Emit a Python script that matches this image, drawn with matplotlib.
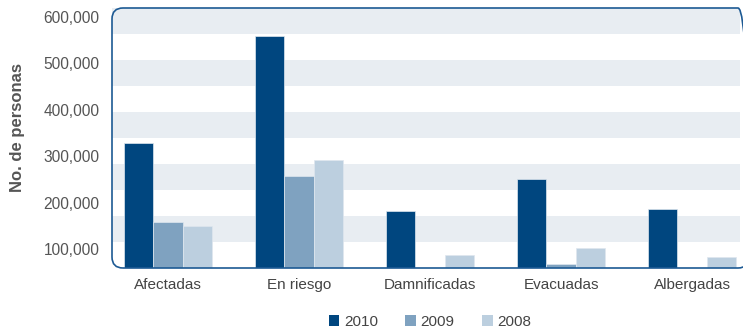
import matplotlib.pyplot as plt
import matplotlib.patches as patches
from matplotlib.ticker import FuncFormatter
import numpy as np

plt.rcParams['font.family'] = ['Liberation Sans', 'DejaVu Sans']

# --- DATA ---
categories = ["Afectadas", "En riesgo", "Damnificadas", "Evacuadas", "Albergadas"]
years = ["2010", "2009", "2008"]
values_2010 = [328000, 559000, 182000, 251000, 186000]
values_2009 = [159000, 257000, 0, 67000, 0]
values_2008 = [150000, 292000, 87000, 101000, 82000]
y_ticks = [100000, 200000, 300000, 400000, 500000, 600000]

colors = ['#00467f', '#7fa2c0', '#bccfdf']
band_color = '#e8edf2'
frame_color = '#1d5a94'
text_color = '#555555'

W, H = 743, 333
fig = plt.figure(figsize=(W / 100, H / 100), dpi=100)

# plot area in pixels (left, top, right, bottom)
px_l, px_t, px_r, px_b = 112, 8, 740, 268
ax = fig.add_axes([px_l / W, (H - px_b) / H, (px_r - px_l) / W, (px_b - px_t) / H])

ymin, ymax = 59000, 619000
ax.set_ylim(ymin, ymax)
ax.set_xlim(-0.427, 4.366)

# alternating background stripes
step = (ymax - ymin) / 10
for i in range(1, 10, 2):
    ax.axhspan(ymin + i * step, ymin + (i + 1) * step, color=band_color, lw=0, zorder=0)

x = np.arange(len(categories))
w = 0.224
for k, (vals, col) in enumerate(zip([values_2010, values_2009, values_2008], colors)):
    ax.bar(x + (k - 1) * w, vals, width=w, color=col, edgecolor='#dfe7ef',
           linewidth=0.5, zorder=2, label=years[k])

for s in ax.spines.values():
    s.set_visible(False)
ax.set_xticks(x)
ax.set_xticklabels(categories, fontsize=11, color='#444444')
ax.set_yticks(y_ticks)
ax.yaxis.set_major_formatter(FuncFormatter(lambda v, p: f"{int(v):,}"))
ax.tick_params(axis='y', length=0, pad=9, labelsize=11.2, labelcolor=text_color)
ax.tick_params(axis='x', length=0, pad=7)

ax.set_ylabel("No. de personas", fontsize=12, fontweight='bold', color=text_color)
ax.yaxis.set_label_coords(-0.139, 0.54)

# rounded frame around the plot area, its right corners just reaching the edge
frame = patches.FancyBboxPatch(
    (px_l / 100, (H - px_b) / 100), (749 - px_l) / 100, (px_b - px_t) / 100,
    boxstyle="round,pad=0,rounding_size=0.11", transform=fig.dpi_scale_trans,
    facecolor='none', edgecolor=frame_color, linewidth=1.2, zorder=5)
fig.patches.append(frame)

handles = [patches.Patch(facecolor=c, edgecolor='none') for c in colors]
fig.legend(handles, years, loc='center', bbox_to_anchor=(430 / W, 1 - 322 / H),
           ncol=3, frameon=False, fontsize=11, handlelength=0.7, handleheight=0.7,
           handletextpad=0.3, columnspacing=1.8, labelcolor='#444444')

fig.savefig("out.png", dpi=100)
